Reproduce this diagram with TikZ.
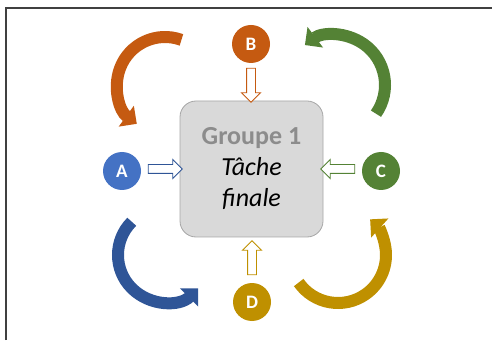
\documentclass[tikz,border=0pt]{standalone}
\usepackage{fontspec}
\setmainfont{Carlito}
\usepackage{tikz}
\usetikzlibrary{positioning, shapes.arrows, arrows.meta, calc}
\definecolor{colA}{HTML}{4472C4}
\definecolor{colAd}{HTML}{2F5597}
\definecolor{colB}{HTML}{C55A11}
\definecolor{colC}{HTML}{548235}
\definecolor{colD}{HTML}{BF9000}
\definecolor{boxfill}{HTML}{D9D9D9}
\definecolor{boxline}{HTML}{A6A6A6}
\definecolor{grptxt}{HTML}{8C8C8C}
\tikzset{
  pnode/.style={circle, minimum size=38pt, inner sep=0pt, text=white,
                font=\fontsize{19}{19}\selectfont\bfseries},
  tnode/.style={draw=boxline, fill=boxfill, rounded corners=16pt, line width=0.8pt,
                minimum width=143pt, minimum height=136pt, align=center,
                font=\fontsize{26}{31}\selectfont},
  barr/.style={single arrow, draw, fill=white, line width=0.9pt,
               inner xsep=0pt, inner ysep=4pt, minimum width=0pt,
               single arrow head extend=5pt, minimum height=34pt},
  carr/.style={line width=12pt, -{Triangle[length=13pt, width=25pt]}},
}
\begin{document}
\begin{tikzpicture}[x=1pt, y=1pt]
  \useasboundingbox (0,0) rectangle (492,340);
  \draw[line width=1.6pt, black!75] (6,0) -- (6,332) -- (492,332);

  % --- final task and the four groups --------------------------------
  \node[tnode] (task) at (251.5,171)
        {\textcolor{grptxt}{\bfseries Groupe 1}\\\itshape Tâche\\\itshape finale};
  \node[pnode, fill=colA] (a) at (122,169) {A};
  \node[pnode, fill=colB] (b) at (251,296) {B};
  \node[pnode, fill=colC] (c) at (381,169) {C};
  \node[pnode, fill=colD] (d) at (252,38)  {D};

  % block arrows towards the task
  \node[barr, draw=colAd]            (ab) at (163,171) {};
  \node[barr, draw=colB, rotate=-90] (bb) at (251,257) {};
  \node[barr, draw=colC, rotate=180] (cb) at (340,171) {};
  \node[barr, draw=colD, rotate=90]  (db) at (252,80)  {};

  % --- rotation between the groups -----------------------------------
  \coordinate (ob) at (165,255);
  \coordinate (oc) at (335,255);
  \coordinate (oa) at (165,85);
  \coordinate (od) at (338,85);

  \draw[carr, colB]  ($(ob)+(70:48)$)  arc[start angle=70,  end angle=234, radius=48];
  \draw[carr, colC]  ($(oc)+(-35:50)$) arc[start angle=-35, end angle=127, radius=50];
  \draw[carr, colAd] ($(oa)+(135:47)$) arc[start angle=135, end angle=315, radius=47];
  \draw[carr, colD]  ($(od)+(215:48)$) arc[start angle=215, end angle=408, radius=48];

\end{tikzpicture}
\end{document}
